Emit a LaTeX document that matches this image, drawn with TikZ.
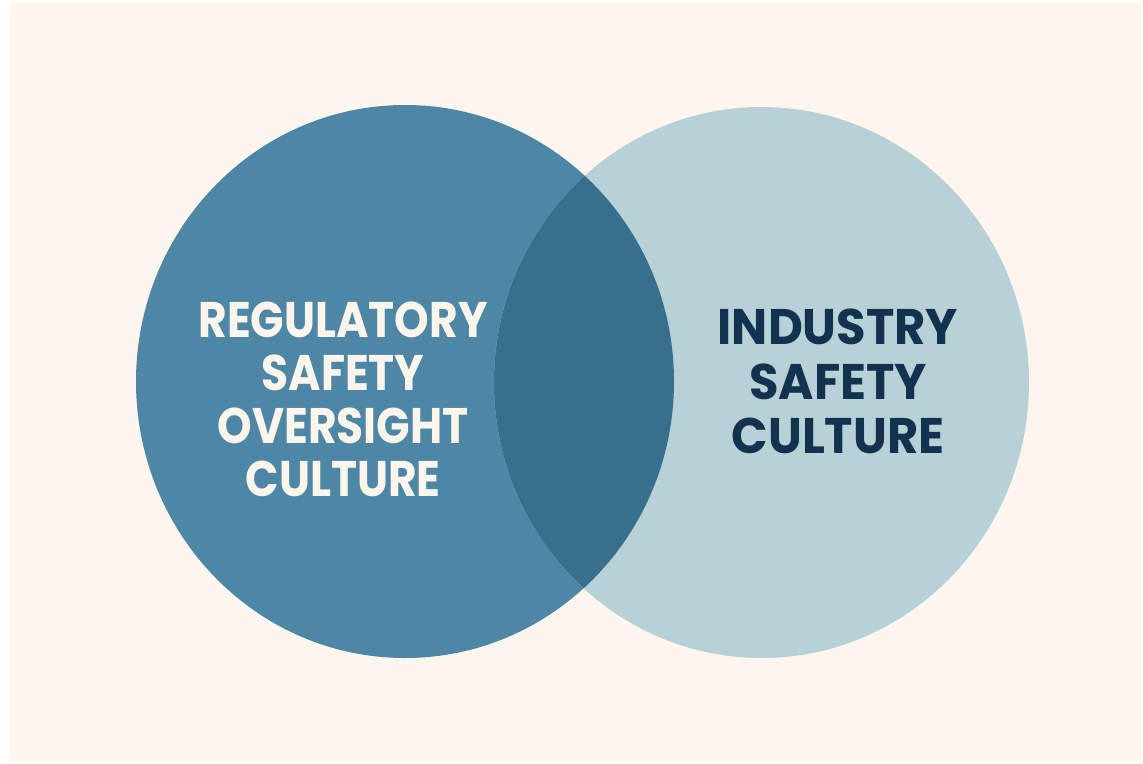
\documentclass[tikz,border=0pt]{standalone}
\usepackage{fontspec}
\setmainfont{Poppins}
% slightly condensed cuts of the bold face for the two labels
\newfontfamily\regfont{Poppins}[FakeStretch=0.88]
\newfontfamily\indfont{Poppins}[FakeStretch=0.96]
\definecolor{paper}{HTML}{FDF6EE}
\definecolor{regblue}{HTML}{4E87A5}
\definecolor{indblue}{HTML}{B8D1D6}
\definecolor{overlap}{HTML}{376F8D}
\definecolor{lighttext}{HTML}{FBF5EC}
\definecolor{darktext}{HTML}{13324F}
\begin{document}
\begin{tikzpicture}[x=1pt,y=-1pt,
  setlabel/.style={align=center,inner sep=0pt}]
  \useasboundingbox (0,0) rectangle (1143,763);
  \fill[white] (0,0) rectangle (1143,763);
  \fill[paper] (10,3) rectangle (1141,761);
  % the two sets
  \fill[regblue] (405,381.5) ellipse [x radius=269, y radius=276.5];
  \fill[indblue] (761.5,382.5) ellipse [x radius=267.5, y radius=275.5];
  % their intersection
  \begin{scope}
    \clip (405,381.5) ellipse [x radius=269, y radius=276.5];
    \fill[overlap] (761.5,382.5) ellipse [x radius=267.5, y radius=275.5];
  \end{scope}
  % labels
  \node[setlabel,text=lighttext,font=\regfont\fontsize{50}{53}\selectfont\bfseries]
    (reg) at (343,399) {REGULATORY\\SAFETY\\OVERSIGHT\\CULTURE};
  \node[setlabel,text=darktext,font=\indfont\fontsize{50}{54.5}\selectfont\bfseries]
    (ind) at (838,381.5) {INDUSTRY\\SAFETY\\CULTURE};
\end{tikzpicture}
\end{document}
